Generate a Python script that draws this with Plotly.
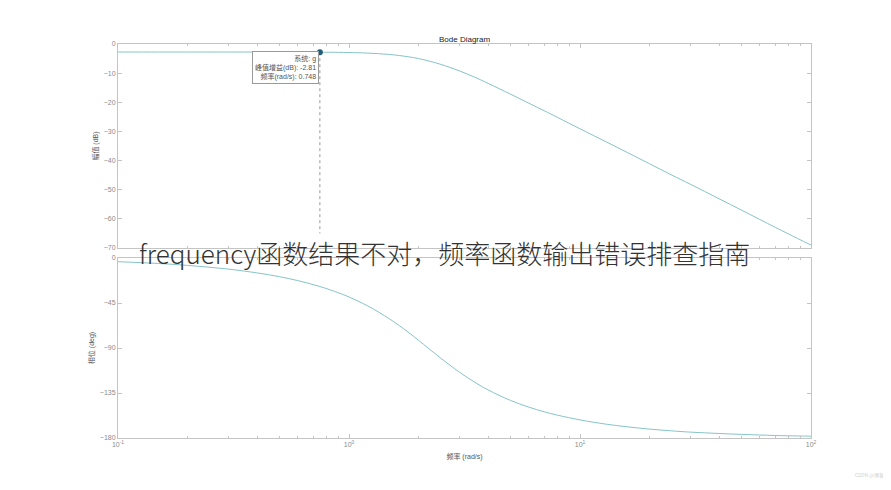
import plotly.graph_objects as go

# Bode diagram values
freq = [0.1, 0.15, 0.2, 0.3, 0.4, 0.5, 0.6, 0.748, 0.9, 1.0, 1.2, 1.5, 1.8, 2.0, 2.2,
        2.5, 3, 3.5, 4, 5, 6, 7, 8, 10, 13, 16, 20, 25, 30, 40, 50, 60, 70, 80, 100]
mag_db = [-2.75, -2.75, -2.75, -2.75, -2.76, -2.76, -2.77, -2.81, -2.87, -2.93, -3.12, -3.6, -4.36, -5.0, -5.76,
          -7.0, -9.2, -11.4, -13.5, -17.2, -20.3, -22.9, -25.2, -29.1, -33.6, -37.2, -41.1, -45.0, -48.1,
          -53.1, -57.0, -60.2, -62.9, -65.2, -69.0]
phase_deg = [-3.7, -5.5, -7.4, -11.1, -14.9, -18.7, -22.6, -28.5, -34.8, -39.0, -47.7, -61.0, -74.0, -82.3, -90.0,
             -100.3, -114.0, -124.2, -131.9, -142.4, -149.1, -153.8, -157.2, -161.9, -166.2, -168.8, -171.1,
             -172.9, -174.1, -175.5, -176.4, -177.0, -177.5, -177.8, -178.2]

# data tip
tip_freq = 0.748
tip_mag = -2.81
tip_lines = ['系统: g', '峰值增益(dB): -2.81', '频率(rad/s): 0.748']

x_ticks = [0.1, 1, 10, 100]
x_ticktext = ['10<sup>-1</sup>', '10<sup>0</sup>', '10<sup>1</sup>', '10<sup>2</sup>']
x_minor = [m * d for d in [0.1, 1, 10] for m in range(2, 10)]
mag_ticks = [0, -10, -20, -30, -40, -50, -60, -70]
phase_ticks = [0, -45, -90, -135, -180]

W, H = 891, 490
OFF = 8  # page body margin


def px(x):
    return (x - OFF) / W


def py(y):
    return 1 - (y - OFF) / H


line_color = '#86c4c8'
axis_color = '#c4c4c4'
tick_font = dict(family='Liberation Sans, Noto Sans CJK SC', size=7, color='#8a8a8a')
label_font = dict(family='Liberation Sans, Noto Sans CJK SC', size=7, color='#555')

fig = go.Figure()

fig.add_trace(go.Scatter(x=freq, y=mag_db, mode='lines', line=dict(color=line_color, width=1, shape='spline'),
                         xaxis='x', yaxis='y', showlegend=False))
fig.add_trace(go.Scatter(x=freq, y=phase_deg, mode='lines', line=dict(color=line_color, width=1, shape='spline'),
                         xaxis='x2', yaxis='y2', showlegend=False))

# dashed drop line and marker of the data tip
fig.add_trace(go.Scatter(x=[tip_freq, tip_freq], y=[tip_mag, -65], mode='lines',
                         line=dict(color='#9a9a9a', width=1, dash='dot'), xaxis='x', yaxis='y', showlegend=False))
fig.add_trace(go.Scatter(x=[tip_freq], y=[tip_mag], mode='markers',
                         marker=dict(color='#1f5f7a', size=6), xaxis='x', yaxis='y', showlegend=False))

common_x = dict(type='log', range=[-1, 2], domain=[px(118), px(811)], showline=True, linecolor=axis_color,
                linewidth=1, mirror='ticks', ticks='inside', ticklen=4, tickcolor=axis_color,
                tickvals=x_ticks, showgrid=False, zeroline=False, automargin=False,
                minor=dict(tickvals=x_minor, ticks='inside', ticklen=2, tickcolor=axis_color, showgrid=False))
common_y = dict(showline=True, linecolor=axis_color, linewidth=1, mirror='ticks', ticks='inside', ticklen=4,
                tickcolor=axis_color, showgrid=False, zeroline=False, tickfont=tick_font, automargin=False)

fig.update_layout(
    width=W, height=H,
    margin=dict(l=0, r=0, t=0, b=0),
    paper_bgcolor='white', plot_bgcolor='white',
    xaxis=dict(common_x, anchor='y', showticklabels=False),
    yaxis=dict(common_y, domain=[py(248), py(44)], range=[-70, 0], tickvals=mag_ticks,
               title=dict(text='幅值 (dB)', font=label_font, standoff=4)),
    xaxis2=dict(common_x, anchor='y2', ticktext=x_ticktext, tickfont=tick_font,
                title=dict(text='频率 (rad/s)', font=label_font, standoff=6)),
    yaxis2=dict(common_y, domain=[py(438), py(258)], range=[-180, 0], tickvals=phase_ticks,
                anchor='x2', title=dict(text='相位 (deg)', font=label_font, standoff=4)),
)

# title
fig.add_annotation(text='Bode Diagram', xref='paper', yref='paper', x=px(464), y=py(33),
                   showarrow=False, font=dict(family='Liberation Sans', size=8, color='#222'))

# data tip box
fig.add_annotation(text='<br>'.join(tip_lines), xref='paper', yref='paper', x=px(319), y=py(51),
                   xanchor='right', yanchor='top', align='right', showarrow=False,
                   bgcolor='white', bordercolor='#9a9a9a', borderwidth=1, borderpad=2,
                   font=dict(family='Liberation Sans, Noto Sans CJK SC', size=7, color='#555'))

# overlay caption
fig.add_annotation(text='frequency函数结果不对，频率函数输出错误排查指南', xref='paper', yref='paper',
                   x=px(444), y=py(252), showarrow=False,
                   font=dict(family='Noto Sans CJK SC', size=26, color='#333', weight=300))

# faint watermark
fig.add_annotation(text='CSDN @博客', xref='paper', yref='paper', x=px(886), y=py(481),
                   xanchor='right', showarrow=False, font=dict(family='Noto Sans CJK SC', size=5, color='#d0d0d0'))

fig.write_html('out.html')
